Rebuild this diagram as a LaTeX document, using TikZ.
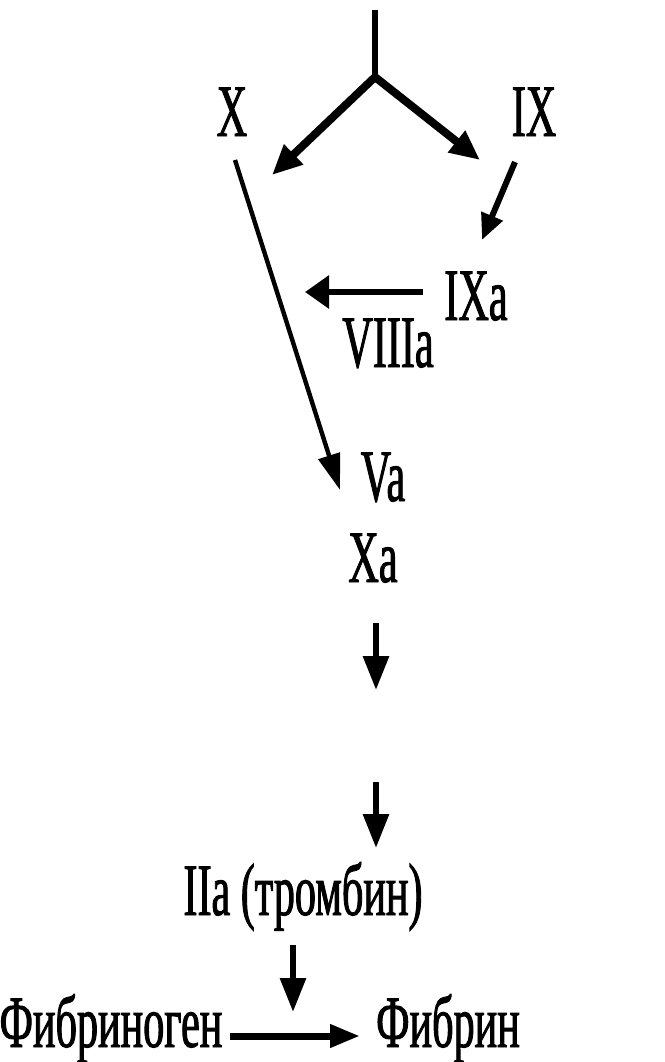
\documentclass[tikz,border=0pt]{standalone}
\usepackage{fontspec}
\setmainfont{Liberation Serif}[FakeStretch=0.57,FakeBold=1.2]
\usetikzlibrary{arrows.meta}
\begin{document}
\begin{tikzpicture}[x=0.5pt,y=-0.5pt,
  lbl/.style={anchor=base,inner sep=0pt,font=\fontsize{37}{43}\selectfont},
  arrbig/.style={line width=4pt,-{Triangle[length=15pt,width=13pt]}},
  arrmid/.style={line width=3pt,-{Triangle[length=13pt,width=11pt]}},
  arrthin/.style={line width=2.2pt,-{Triangle[length=18pt,width=11pt]}},
  arrdown/.style={line width=3pt,-{Triangle[length=17pt,width=12.5pt]}}]
\useasboundingbox (0,0) rectangle (665,1062);
% labels
\node[lbl] (X) at (232,136) {X};
\node[lbl] (IX) at (534,136) {IX};
\node[lbl] (IXa) at (476,320) {IXa};
\node[lbl] (VIIIa) at (388,367) {VIIIa};
\node[lbl] (Va) at (383,501) {Va};
\node[lbl] (Xa) at (373,582) {Xa};
\node[lbl] (IIa) at (303,915) {IIa (тромбин)};
\node[lbl] (fgen) at (111,1047) {Фибриноген};
\node[lbl] (fin) at (448,1047) {Фибрин};
% coordinates
\coordinate (top) at (375,10);
\coordinate (br) at (375,77);
\coordinate (lt) at (272,175);
\coordinate (rt) at (480,160);
\coordinate (xs) at (235,160);
\coordinate (vat) at (340,490);
\coordinate (ixs) at (515,162);
\coordinate (ixt) at (482,240);
\coordinate (ixas) at (423,292);
\coordinate (ixat) at (305,292);
\coordinate (d1s) at (376,623);
\coordinate (d1t) at (376,690);
\coordinate (d2s) at (376,782);
\coordinate (d2t) at (376,848);
\coordinate (d3s) at (293,945);
\coordinate (d3t) at (293,1012);
\coordinate (hs) at (230,1036);
\coordinate (ht) at (360,1036);
% connectors
\draw[line width=2.6pt] (top) -- (br);
\draw[arrbig] (br) -- (lt);
\draw[arrbig] (br) -- (rt);
\draw[arrmid] (ixs) -- (ixt);
\draw[arrthin] (xs) -- (vat);
\draw[arrmid,-{Triangle[length=12pt,width=16pt]}] (ixas) -- (ixat);
\draw[arrdown] (d1s) -- (d1t);
\draw[arrdown] (d2s) -- (d2t);
\draw[arrdown] (d3s) -- (d3t);
\draw[line width=3.5pt,-{Triangle[length=15pt,width=11pt]}] (hs) -- (ht);
\end{tikzpicture}
\end{document}
